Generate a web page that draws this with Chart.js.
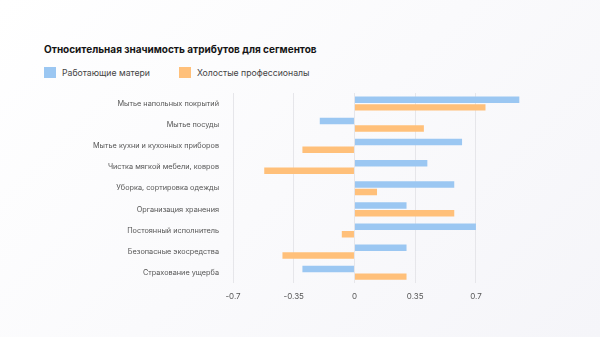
<!DOCTYPE html>
<html>
<head>
<meta charset="utf-8">
<script src="https://cdn.jsdelivr.net/npm/chart.js@4"></script>
<style>
  html, body { margin: 0; padding: 0; }
  body {
    width: 600px; height: 337px; position: relative; overflow: hidden;
    background: linear-gradient(135deg, #ffffff 0%, #f5f5f9 100%);
    font-family: Inter, "Noto Sans", sans-serif;
  }
  #title {
    position: absolute; left: 44px; top: 43px;
    font-size: 10px; font-weight: 700; color: #151515; white-space: nowrap;
  }
  #legend { position: absolute; left: 44px; top: 67px; font-size: 8.7px; color: #444; white-space: nowrap; }
  .item { display: inline-block; margin-right: 29px; }
  .box { display: inline-block; width: 12px; height: 11px; vertical-align: -2px; margin-right: 6px; }
  #wrap { position: absolute; left: 0; top: 0; width: 600px; height: 337px; }
</style>
</head>
<body>
<div id="title">Относительная значимость атрибутов для сегментов</div>
<div id="legend"></div>
<div id="wrap"><canvas id="chart"></canvas></div>
<script>
const categories = [
  "Мытье напольных покрытий",
  "Мытье посуды",
  "Мытье кухни и кухонных приборов",
  "Чистка мягкой мебели, ковров",
  "Уборка, сортировка одежды",
  "Организация хранения",
  "Постоянный исполнитель",
  "Безопасные экосредства",
  "Страхование ущерба"
];
const seriesNames = ["Работающие матери", "Холостые профессионалы"];
const workingMothers = [0.95, -0.20, 0.62, 0.42, 0.575, 0.30, 0.70, 0.30, -0.30];
const singlePros = [0.755, 0.40, -0.30, -0.52, 0.13, 0.575, -0.073, -0.415, 0.30];
const xTicks = [-0.7, -0.35, 0, 0.35, 0.7];
const xTickLabels = ["-0.7", "-0.35", "0", "0.35", "0.7"];
const colors = ["#9bc7f2", "#ffc07a"];

const legend = document.getElementById('legend');
seriesNames.forEach(function (name, i) {
  const item = document.createElement('span');
  item.className = 'item';
  item.innerHTML = '<span class="box" style="background:' + colors[i] + '"></span>' + name;
  legend.appendChild(item);
});

const ctx = document.getElementById('chart').getContext('2d');
new Chart(ctx, {
  type: 'bar',
  data: {
    labels: categories,
    datasets: [
      { label: seriesNames[0], data: workingMothers, backgroundColor: colors[0] },
      { label: seriesNames[1], data: singlePros, backgroundColor: colors[1] }
    ]
  },
  options: {
    indexAxis: 'y',
    responsive: true,
    maintainAspectRatio: false,
    animation: false,
    layout: { padding: { top: 93, left: 44, right: 72, bottom: 28 } },
    datasets: { bar: { categoryPercentage: 0.72, barPercentage: 0.85 } },
    plugins: { legend: { display: false }, title: { display: false }, tooltip: { enabled: false } },
    scales: {
      x: {
        min: -0.7,
        max: 1.0,
        afterBuildTicks: function (axis) { axis.ticks = xTicks.map(function (v) { return { value: v }; }); },
        grid: { color: '#e6e6ea', drawTicks: false },
        border: { display: false },
        ticks: {
          padding: 8, color: '#555', font: { family: 'Inter', size: 8 },
          callback: function (value, index) { return xTickLabels[index]; }
        }
      },
      y: {
        afterFit: function (axis) { axis.width = 189; },
        grid: { display: false, drawTicks: false },
        border: { display: false },
        ticks: { padding: 14, color: '#555', font: { family: 'Inter', size: 7.3 } }
      }
    }
  }
});
</script>
</body>
</html>
